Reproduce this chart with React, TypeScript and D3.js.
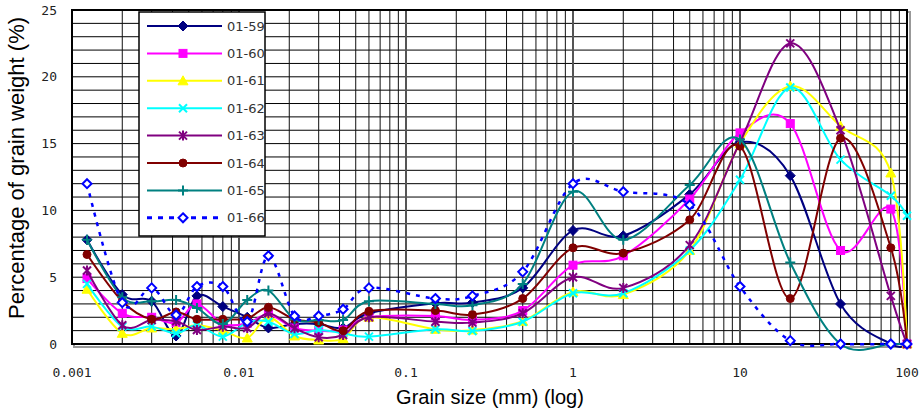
import React from "react";
import * as d3 from "d3";

const grainSizes = [0.00123, 0.002, 0.003, 0.0042, 0.0056, 0.008, 0.0112, 0.015, 0.0215, 0.03, 0.042, 0.06, 0.15, 0.25, 0.5, 1, 2, 5, 10, 20, 40, 80, 100];

const s0159 = [7.8, 3.7, 3.2, 0.6, 3.6, 2.8, 2.0, 1.2, 1.5, 1.5, 1.2, 2.3, 3.05, 3.1, 4.2, 8.5, 8.1, 11.2, 15.1, 12.6, 3.0, 0, 0];
const s0160 = [4.9, 2.3, 2.0, 1.6, 3.0, 1.5, 1.55, 2.2, 1.2, 1.0, 1.05, 2.0, 2.1, 1.8, 2.5, 5.9, 6.6, 10.85, 15.8, 16.5, 7.0, 10.1, 0];
const s0161 = [4.1, 0.8, 1.2, 1.1, 1.4, 1.0, 0.45, 2.0, 0.6, 0.3, 0.4, 2.0, 1.1, 1.05, 1.7, 3.9, 3.7, 7.0, 15.0, 19.3, 16.3, 12.8, 0];
const s0162 = [4.5, 1.3, 1.3, 0.8, 1.4, 0.55, 1.6, 1.67, 0.75, 1.05, 0.8, 0.55, 1.1, 0.97, 1.67, 3.8, 3.8, 7.0, 12.3, 19.2, 13.8, 11.1, 9.6];
const s0163 = [5.5, 1.4, 1.8, 1.7, 1.05, 1.3, 1.2, 2.3, 1.17, 0.5, 0.67, 2.0, 1.67, 1.6, 2.3, 5.0, 4.2, 7.4, 15.1, 22.5, 16.0, 3.6, 0];
const s0164 = [6.7, 3.2, 1.85, 2.4, 1.85, 1.85, 1.9, 2.75, 1.85, 1.6, 1.0, 2.45, 2.5, 2.2, 3.4, 7.2, 6.8, 9.3, 14.8, 3.4, 15.4, 7.2, 0];
const s0165 = [7.8, 3.5, 3.2, 3.3, 2.7, 1.5, 3.3, 4.0, 1.85, 1.8, 1.8, 3.2, 3.0, 2.9, 4.5, 11.4, 7.8, 11.9, 15.3, 6.1, 0, 0, 0];
const s0166 = [12.0, 3.1, 4.2, 2.17, 4.3, 4.3, 1.67, 6.6, 2.1, 2.1, 2.6, 4.2, 3.4, 3.6, 5.4, 12.0, 11.4, 10.4, 4.3, 0.25, 0, 0, 0];

const seriesNames = ["01-59", "01-60", "01-61", "01-62", "01-63", "01-64", "01-65", "01-66"];
const seriesValues = [s0159, s0160, s0161, s0162, s0163, s0164, s0165, s0166];
const seriesColors = ["#000080", "#ff00ff", "#ffff00", "#00ffff", "#800080", "#800000", "#008080", "#0000ff"];
const seriesMarkers = ["diamond", "square", "triangle", "x", "star", "circle", "plus", "opendiamond"];

const xTicks = [0.001, 0.01, 0.1, 1, 10, 100];
const xTickLabels = ["0.001", "0.01", "0.1", "1", "10", "100"];
const yTicks = [0, 5, 10, 15, 20, 25];

const W = 923;
const H = 412;
const L = 72, R = 907, T = 10, B = 344;

function Marker({ type, x, y, color }: { type: string; x: number; y: number; color: string }) {
  const s = 4;
  switch (type) {
    case "diamond":
      return <path d={`M${x},${y - 5}L${x + 5},${y}L${x},${y + 5}L${x - 5},${y}Z`} fill={color} stroke={color} strokeWidth={1} />;
    case "square":
      return <rect x={x - 4} y={y - 4} width={8} height={8} fill={color} stroke={color} strokeWidth={1} />;
    case "triangle":
      return <path d={`M${x},${y - 5}L${x + 5},${y + 4}L${x - 5},${y + 4}Z`} fill={color} stroke={color} strokeWidth={1} />;
    case "x":
      return <path d={`M${x - s},${y - s}L${x + s},${y + s}M${x - s},${y + s}L${x + s},${y - s}`} stroke={color} strokeWidth={2} fill="none" />;
    case "star":
      return <path d={`M${x - s},${y - s}L${x + s},${y + s}M${x - s},${y + s}L${x + s},${y - s}M${x},${y - 5}L${x},${y + 5}`} stroke={color} strokeWidth={2} fill="none" />;
    case "circle":
      return <circle cx={x} cy={y} r={4} fill={color} stroke={color} strokeWidth={1} />;
    case "plus":
      return <path d={`M${x - 5},${y}L${x + 5},${y}M${x},${y - 5}L${x},${y + 5}`} stroke={color} strokeWidth={2} fill="none" />;
    case "opendiamond":
      return <path d={`M${x},${y - 4.5}L${x + 4.5},${y}L${x},${y + 4.5}L${x - 4.5},${y}Z`} fill="#fff" stroke={color} strokeWidth={2} />;
    default:
      return null;
  }
}

export default function App() {
  const x = d3.scaleLog().domain([0.001, 100]).range([L, R]);
  const y = d3.scaleLinear().domain([0, 25]).range([B, T]);

  const minorX: number[] = [];
  for (let e = -3; e < 2; e++) {
    for (let m = 1; m <= 9; m++) {
      const v = m * Math.pow(10, e);
      if (v > 0.001 && v < 100) minorX.push(v);
    }
  }
  const hLines = d3.range(1, 25);

  const line = d3
    .line<number>()
    .x((_, i) => x(grainSizes[i]))
    .y((d) => y(d))
    .curve(d3.curveCatmullRom.alpha(0));

  const legX = 139, legY = 12, legW = 126, legH = 224;
  const legRow0 = 26, legStep = 27.4;

  return (
    <svg width={W} height={H} style={{ position: "absolute", left: 0, top: 0, display: "block", background: "#fff" }}>
      <rect x={0} y={0} width={W} height={H} fill="#fff" />
      <rect x={L + 2} y={T + 2} width={R - L + 1} height={B - T + 1} fill="none" stroke="#999" strokeWidth={2} />
      <rect x={L} y={T} width={R - L} height={B - T} fill="#fff" />
      {hLines.map((v) => (
        <line key={"h" + v} x1={L} x2={R} y1={y(v)} y2={y(v)} stroke="#000" strokeWidth={1} />
      ))}
      {minorX.map((v, i) => {
        const major = Math.abs(Math.log10(v) - Math.round(Math.log10(v))) < 1e-9;
        return (
          <line key={"v" + i} x1={x(v)} x2={x(v)} y1={T} y2={B} stroke={major ? "#555" : "#111"} strokeWidth={major ? 2 : 1} />
        );
      })}
      <rect x={L} y={T} width={R - L} height={B - T} fill="none" stroke="#000" strokeWidth={2} />

      {seriesValues.map((vals, si) => (
        <g key={"s" + si}>
          <path
            d={line(vals) || ""}
            fill="none"
            stroke={seriesColors[si]}
            strokeWidth={si === 7 ? 2.5 : 2}
            strokeDasharray={si === 7 ? "4,6" : undefined}
          />
          {vals.map((v, i) => (
            <Marker key={i} type={seriesMarkers[si]} x={x(grainSizes[i])} y={y(v)} color={seriesColors[si]} />
          ))}
        </g>
      ))}

      <rect x={legX} y={legY} width={legW} height={legH} fill="#fff" stroke="#000" strokeWidth={1.5} />
      {seriesNames.map((name, i) => {
        const ly = legY + legRow0 - 12 + i * legStep;
        return (
          <g key={"l" + i}>
            <line
              x1={147}
              x2={222}
              y1={ly}
              y2={ly}
              stroke={seriesColors[i]}
              strokeWidth={i === 7 ? 3 : 2}
              strokeDasharray={i === 7 ? "5,6" : undefined}
            />
            <Marker type={seriesMarkers[i]} x={183} y={ly} color={seriesColors[i]} />
            <text x={227} y={ly} dominantBaseline="central" fontFamily="DejaVu Sans" fontSize={13} fill="#333">
              {name}
            </text>
          </g>
        );
      })}

      {yTicks.map((v) => (
        <text key={"yt" + v} x={57} y={y(v)} textAnchor="end" dominantBaseline="central" fontFamily="DejaVu Sans Mono" fontSize={13} fill="#222">
          {v}
        </text>
      ))}
      {xTicks.map((v, i) => (
        <text key={"xt" + v} x={x(v)} y={372} textAnchor="middle" dominantBaseline="central" fontFamily="DejaVu Sans Mono" fontSize={13} fill="#222">
          {xTickLabels[i]}
        </text>
      ))}
      <text x={490} y={397} textAnchor="middle" dominantBaseline="central" fontFamily="Liberation Sans, Arial" fontSize={20} fill="#000">
        Grain size (mm) (log)
      </text>
      <text
        transform={`translate(16,168) rotate(-90)`}
        textAnchor="middle"
        dominantBaseline="central"
        fontFamily="Liberation Sans, Arial"
        fontSize={22}
        fill="#000"
      >
        Percentage of grain weight (%)
      </text>
    </svg>
  );
}
